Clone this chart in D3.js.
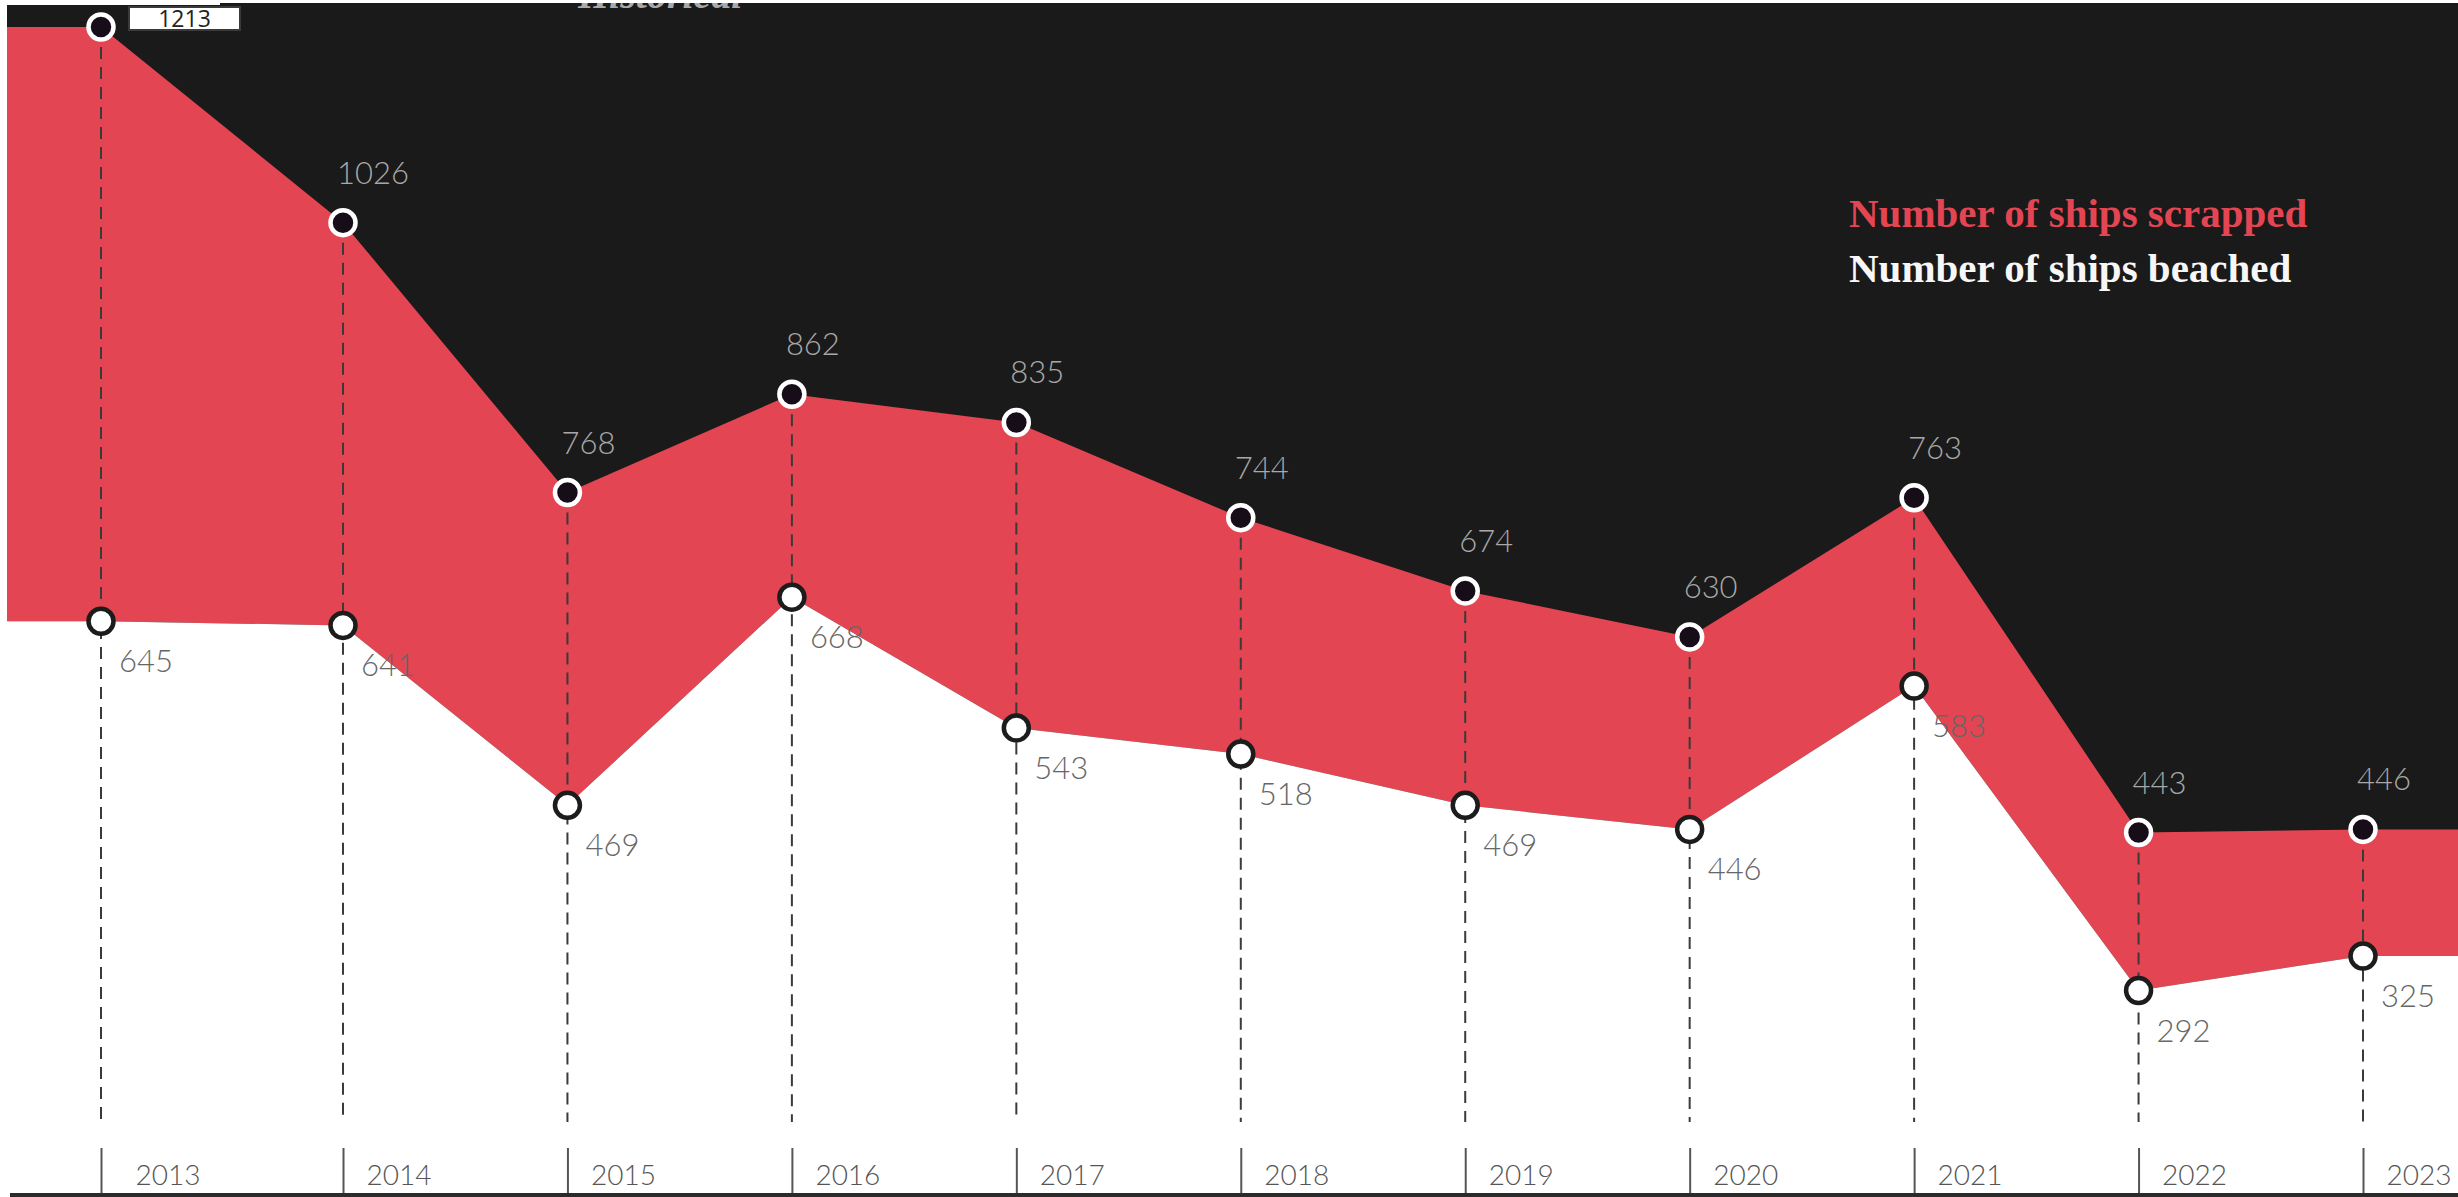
<!DOCTYPE html>
<html>
<head>
<meta charset="utf-8">
<script src="https://cdn.jsdelivr.net/npm/d3@7"></script>
<style>
  html, body { margin: 0; padding: 0; background: #ffffff; }
  svg { display: block; }
</style>
</head>
<body>
<svg id="chart" width="2458" height="1197"></svg>
<script>
// ---- data ----
const years = [2013, 2014, 2015, 2016, 2017, 2018, 2019, 2020, 2021, 2022, 2023];
const scrapped = [1213, 1026, 768, 862, 835, 744, 674, 630, 763, 443, 446];
const beached = [645, 641, 469, 668, 543, 518, 469, 446, 583, 292, 325];
const legendLabels = ["Number of ships scrapped", "Number of ships beached"];
const headerText = "Historical";

(function () {
// ---- layout ----
const W = 2458, H = 1197;
const padL = 7, padR = W, padT = 3, floorY = 1193;
const RED = "#e44553", DARK = "#1a1a1a";

const svg = d3.select("#chart");

// first interval is drawn a little wider in the original layout
const x = d3.scaleLinear().domain([2013, 2014, 2023]).range([101, 343, 2363]);
const y = d3.scaleLinear().domain([0, 1213]).range([1296, 27]);

const pts = years.map((yr, i) => ({ x: x(yr), y1: y(scrapped[i]), y0: y(beached[i]) }));
const ext = [{ x: padL, y1: pts[0].y1, y0: pts[0].y0 }, ...pts,
             { x: padR, y1: pts[pts.length - 1].y1, y0: pts[pts.length - 1].y0 }];

// dark background
svg.append("rect").attr("x", padL).attr("y", 0).attr("width", padR - padL).attr("height", floorY)
  .attr("fill", DARK);

// header text (mostly clipped at the top, as in the original)
svg.append("text").attr("x", 578).attr("y", 8)
  .attr("font-family", "'Liberation Serif', 'DejaVu Serif', serif")
  .attr("font-style", "italic").attr("font-weight", "bold")
  .attr("font-size", 40).attr("fill", "#a9a9a9").text(headerText);

// red band
svg.append("path").datum(ext)
  .attr("d", d3.area().x(d => d.x).y0(d => d.y0).y1(d => d.y1))
  .attr("fill", RED);

// white area below lower line
svg.append("path").datum(ext)
  .attr("d", d3.area().x(d => d.x).y0(floorY).y1(d => d.y0))
  .attr("fill", "#ffffff");

// white frame strips
svg.append("rect").attr("x", 0).attr("y", 0).attr("width", W).attr("height", padT).attr("fill", "#fff");
svg.append("rect").attr("x", 0).attr("y", 0).attr("width", 220).attr("height", 5).attr("fill", "#fff");
svg.append("rect").attr("x", 0).attr("y", 0).attr("width", padL).attr("height", H).attr("fill", "#fff");

// bottom bar
svg.append("rect").attr("x", 10).attr("y", floorY).attr("width", W - 10).attr("height", H - floorY)
  .attr("fill", "#2b2b2b");

// dashed guides
svg.append("g").selectAll("line").data(pts).join("line")
  .attr("x1", d => d.x).attr("x2", d => d.x)
  .attr("y1", d => d.y1).attr("y2", 1122)
  .attr("stroke", "#3a3a3a").attr("stroke-width", 2).attr("stroke-dasharray", "12 8");

// axis with ticks and year labels
const axis = d3.axisBottom(x).tickValues(years).tickFormat(d3.format("d")).tickSize(45).tickPadding(0);
const gAxis = svg.append("g").attr("transform", `translate(0,${1148})`).call(axis);
gAxis.select(".domain").remove();
gAxis.selectAll(".tick line").attr("stroke", "#555").attr("stroke-width", 2);
gAxis.selectAll(".tick text")
  .attr("text-anchor", "start").attr("x", (d, i) => i === 0 ? 34 : 23).attr("y", 37).attr("dy", null)
  .attr("font-family", "Lato, 'Open Sans', sans-serif").attr("font-weight", 300)
  .attr("font-size", 28).attr("fill", "#555");

// circles: lower (beached)
svg.append("g").selectAll("circle").data(pts).join("circle")
  .attr("cx", d => d.x).attr("cy", d => d.y0).attr("r", 12.5)
  .attr("fill", "#ffffff").attr("stroke", "#1c1c1c").attr("stroke-width", 4.5);

// circles: upper (scrapped)
svg.append("g").selectAll("circle").data(pts).join("circle")
  .attr("cx", d => d.x).attr("cy", d => d.y1).attr("r", 12.5)
  .attr("fill", "#170d19").attr("stroke", "#ffffff").attr("stroke-width", 4.5);

// labels: upper
const numFont = "Lato, 'Open Sans', sans-serif";
svg.append("g").selectAll("text").data(pts.slice(1)).join("text")
  .attr("x", d => d.x - 6).attr("y", d => d.y1 - 39)
  .attr("font-family", numFont).attr("font-weight", 300).attr("font-size", 31)
  .attr("fill", "#a8a8a8")
  .text((d, i) => scrapped[i + 1]);

// boxed label for first point
const first = pts[0];
svg.append("rect").attr("x", first.x + 28).attr("y", 7).attr("width", 111).attr("height", 23)
  .attr("fill", "#ffffff").attr("stroke", "#3a3a3a").attr("stroke-width", 2);
svg.append("text").attr("x", first.x + 28 + 55.5).attr("y", 27)
  .attr("text-anchor", "middle")
  .attr("font-family", "'Liberation Sans Narrow', 'Open Sans', sans-serif")
  .attr("font-size", 23).attr("fill", "#222")
  .text(scrapped[0]);

// labels: lower
svg.append("g").selectAll("text").data(pts).join("text")
  .attr("x", d => d.x + 18).attr("y", d => d.y0 + 51)
  .attr("font-family", numFont).attr("font-weight", 300).attr("font-size", 31)
  .attr("fill", "#666")
  .text((d, i) => beached[i]);

// legend
const legColors = [RED, "#f7f7f7"];
svg.append("g").selectAll("text").data(legendLabels).join("text")
  .attr("x", 1849).attr("y", (d, i) => 227 + i * 55)
  .attr("font-family", "'Liberation Serif', 'DejaVu Serif', serif")
  .attr("font-weight", "bold").attr("font-size", 41)
  .attr("fill", (d, i) => legColors[i])
  .text(d => d);
})();
</script>
</body>
</html>
